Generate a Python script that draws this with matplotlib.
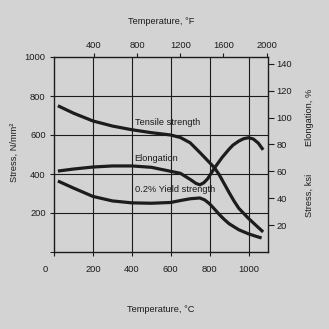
import matplotlib.pyplot as plt
import matplotlib.transforms as mtransforms

# values (temperature in deg C)
tensile_temp = [20, 100, 200, 300, 400, 500, 600, 650, 700, 750, 800, 825, 850, 875, 900, 925, 950, 1000, 1040, 1075]
tensile_mpa = [750, 712, 672, 646, 627, 612, 600, 587, 560, 510, 458, 432, 395, 350, 305, 262, 224, 172, 135, 103]

yield_temp = [20, 100, 200, 300, 400, 500, 600, 650, 700, 750, 775, 800, 825, 850, 875, 900, 950, 1000, 1040, 1067]
yield_mpa = [364, 328, 285, 262, 252, 250, 254, 264, 273, 277, 267, 247, 220, 192, 167, 145, 114, 93, 80, 72]

elong_temp = [20, 100, 200, 300, 400, 500, 600, 650, 700, 730, 750, 770, 790, 825, 865, 900, 920, 950, 975, 1000, 1025, 1050, 1075]
elong_pct = [60.2, 61.7, 63.2, 64, 64, 63, 60, 58.5, 54, 51, 50, 51.5, 54.5, 62.5, 70.5, 76.5, 79.5, 82.5, 84.3, 85, 84, 81, 76]

celsius_ticks = [0, 200, 400, 600, 800, 1000]
fahrenheit_ticks = [400, 800, 1200, 1600, 2000]
stress_ticks = [200, 400, 600, 800, 1000]
ksi_ticks = [20, 40, 60, 80, 100, 120, 140]

bg = "#d3d3d3"
ink = "#1c1c1c"
fs = 6.7
lw_curve = 2.3
plt.rcParams["font.family"] = ["Liberation Sans", "DejaVu Sans"]

fig = plt.figure(figsize=(3.29, 3.29), dpi=100, facecolor=bg)
ax = fig.add_axes([54 / 329, 1 - 252 / 329, 214 / 329, 195 / 329])
ax.set_facecolor(bg)

ax.set_xlim(0, 1100)
ax.set_ylim(0, 1000)
ax.set_xticks(celsius_ticks)
ax.set_yticks(stress_ticks)
ax.set_yticks([0], minor=True)
for v in [200, 400, 600, 800, 1000]:
    ax.axvline(v, color=ink, lw=0.8, zorder=1)
for v in [200, 400, 600, 800]:
    ax.axhline(v, color=ink, lw=0.8, zorder=1)
for s in ax.spines.values():
    s.set_color(ink)
    s.set_linewidth(1.0)
ax.tick_params(axis="x", direction="out", length=3, pad=6, labelsize=fs, colors=ink)
ax.tick_params(axis="y", direction="out", length=3, pad=3, labelsize=fs, colors=ink)
ax.tick_params(axis="y", which="minor", direction="out", length=3)

# the "0" label sits a little left of its tick in the original
shift = mtransforms.ScaledTranslation(-9 / 100, 0, fig.dpi_scale_trans)
first = ax.get_xticklabels()[0]
first.set_transform(first.get_transform() + shift)

ax.plot(tensile_temp, tensile_mpa, color=ink, lw=lw_curve, solid_capstyle="butt", zorder=3)
ax.plot(yield_temp, yield_mpa, color=ink, lw=lw_curve, solid_capstyle="butt", zorder=3)

# right axis: stress in ksi and elongation in % share the same numbers
ax2 = ax.twinx()
ax2.set_ylim(0, 1000 / 6.895)
ax2.set_yticks(ksi_ticks)
ax2.tick_params(axis="y", direction="out", length=4, pad=2, labelsize=fs, colors=ink)
for s in ax2.spines.values():
    s.set_visible(False)
ax2.plot(elong_temp, elong_pct, color=ink, lw=lw_curve, solid_capstyle="butt", zorder=3)

# top axis in deg F
top = ax.secondary_xaxis("top", functions=(lambda c: c * 9 / 5 + 32, lambda f: (f - 32) * 5 / 9))
top.set_xticks(fahrenheit_ticks)
top.tick_params(direction="out", length=3, pad=2, labelsize=fs, colors=ink)
top.spines["top"].set_visible(False)

ax.text(415, 662, "Tensile strength", fontsize=fs, color=ink, va="center")
ax.text(415, 477, "Elongation", fontsize=fs, color=ink, va="center")
ax.text(415, 318, "0.2% Yield strength", fontsize=fs, color=ink, va="center")

fig.text(161 / 329, 1 - 22 / 329, "Temperature, °F", fontsize=fs, color=ink, ha="center", va="center")
fig.text(161 / 329, 1 - 309 / 329, "Temperature, °C", fontsize=fs, color=ink, ha="center", va="center")
fig.text(14 / 329, 1 - 152 / 329, "Stress, N/mm²", fontsize=fs, color=ink, ha="center", va="center", rotation=90)
fig.text(309 / 329, 1 - 117 / 329, "Elongation, %", fontsize=fs, color=ink, ha="center", va="center", rotation=90)
fig.text(309 / 329, 1 - 195 / 329, "Stress, ksi", fontsize=fs, color=ink, ha="center", va="center", rotation=90)

fig.savefig("out.png", dpi=100, facecolor=bg)
